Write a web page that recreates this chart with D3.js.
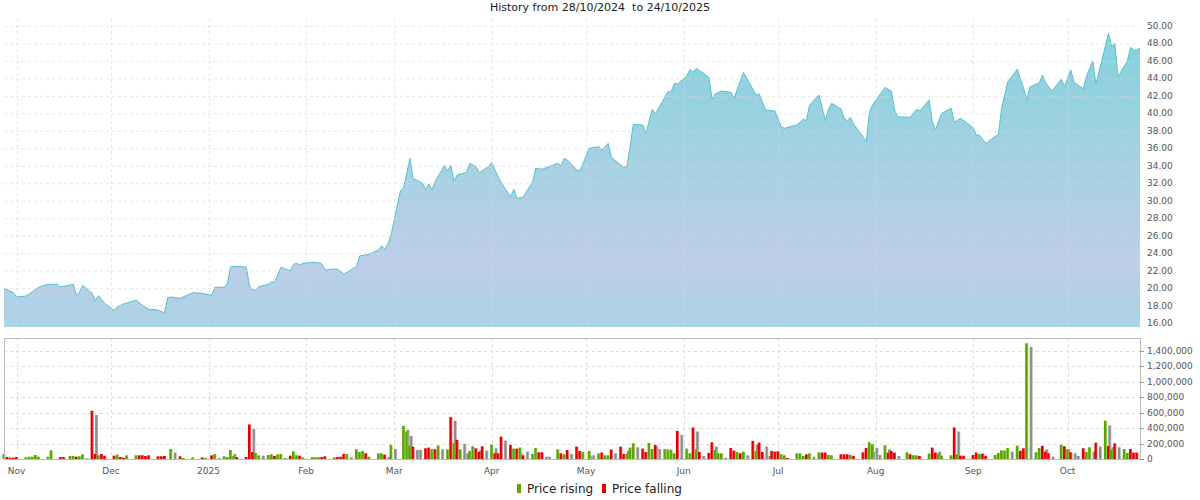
<!DOCTYPE html>
<html>
<head>
<meta charset="utf-8">
<script src="https://cdn.jsdelivr.net/npm/d3@7/dist/d3.min.js"></script>
<style>
  body { margin: 0; background: #fff; }
  text { font-family: "DejaVu Sans", sans-serif; }
</style>
</head>
<body>
<div id="chart"></div>
<script>
// Start of the history (day 0)
var startDate = new Date(2024, 9, 28);
var endDate = new Date(2025, 9, 24);

// Price series: days since 28/10/2024 and closing price
var priceDays = [0, 3, 4, 7, 9, 11, 14, 17, 18, 22, 23, 24, 25, 28, 29, 30, 32, 35, 36, 38,
  42, 44, 46, 49, 51, 52, 53, 56, 60, 63, 66, 67, 70, 71, 72, 73, 77, 78, 79, 80,
  81, 84, 85, 86, 88, 91, 92, 93, 94, 95, 98, 100, 101, 102, 105, 106, 108, 112, 113, 116,
  119, 120, 121, 122, 123, 126, 127, 129, 130, 133, 134, 135, 136, 137, 140, 141, 142, 143, 144, 147,
  148, 150, 151, 154, 155, 156, 158, 161, 162, 163, 165, 168, 169, 171, 176, 177, 178, 179, 182, 183,
  186, 189, 190, 192, 193, 197, 198, 200, 203, 204, 206, 207, 211, 212, 213, 214, 217, 218, 219, 220,
  224, 225, 226, 228, 231, 232, 235, 239, 240, 242, 245, 247, 248, 252, 254, 255, 256, 259, 261, 262,
  263, 266, 267, 268, 269, 270, 273, 274, 275, 276, 280, 282, 283, 284, 288, 290, 291, 294, 295, 296,
  298, 301, 302, 304, 308, 309, 310, 312, 316, 317, 319, 322, 324, 325, 326, 329, 330, 331, 333, 336,
  337, 339, 340, 343, 344, 346, 347, 351, 352, 353, 354, 357, 358, 359, 360, 361];
var priceValues = [20.0, 19.47, 18.98, 19.09, 19.58, 20.09, 20.43, 20.43, 20.12, 20.43, 19.17, 19.55, 20.31, 19.40, 18.55, 19.13, 18.25, 17.45, 17.87, 18.18,
  18.6, 18.03, 17.57, 17.49, 17.11, 18.9, 18.98, 18.83, 19.47, 19.40, 19.17, 20.09, 20.09, 20.54, 22.41, 22.49, 22.41, 20.24, 19.78, 19.78,
  20.16, 20.43, 20.73, 20.66, 22.38, 21.95, 22.72, 22.83, 22.64, 22.83, 22.95, 22.9, 22.75, 22.07, 22.18, 22.15, 21.6, 22.45, 23.67, 23.86,
  24.36, 24.82, 24.5, 25.04, 26.07, 31.15, 31.45, 34.85, 32.56, 31.99, 31.3, 31.91, 31.23, 32.18, 34.05, 33.4, 34.05, 32.26, 32.94, 33.25,
  34.28, 33.9, 33.21, 33.9, 34.4, 33.52, 32.06, 30.46, 31.3, 30.27, 30.39, 32.18, 33.71, 33.6, 34.28, 33.97, 34.85, 34.66, 33.52, 33.4,
  36.0, 36.18, 35.8, 36.57, 34.97, 33.78, 33.97, 38.75, 38.67, 37.72, 40.46, 39.93, 42.48, 42.48, 43.44, 43.36, 44.28, 45.04, 44.7, 45.16,
  44.13, 41.61, 42.22, 42.56, 42.41, 41.72, 44.7, 42.1, 42.22, 40.38, 40.27, 38.47, 38.29, 38.67, 39.32, 39.16, 40.96, 42.1, 39.16, 40.46,
  41.15, 40.5, 39.43, 39.16, 39.55, 38.75, 37.33, 36.76, 40.08, 40.96, 42.98, 42.52, 40.38, 39.6, 39.55, 40.46, 40.27, 41.53, 39.04, 38.1,
  40.0, 40.58, 38.98, 39.43, 38.36, 37.52, 37.49, 36.57, 37.6, 40.58, 43.63, 45.04, 42.87, 41.53, 42.98, 43.51, 44.36, 43.51, 42.56, 43.9,
  43.05, 44.97, 43.55, 42.79, 44.28, 45.96, 43.36, 49.17, 47.64, 48.02, 44.2, 45.99, 47.56, 47.25, 47.25, 47.45];

// Volume (thousands of shares), days since 28/10/2024, "u" = price rising, "d" = price falling
var volumeDays = [0, 1, 2, 3, 4, 7, 8, 9, 10, 11, 14, 15, 18, 19, 21, 22, 23, 24, 25, 28,
  29, 30, 31, 32, 35, 36, 37, 38, 39, 42, 43, 44, 45, 46, 49, 50, 51, 53, 56, 57,
  60, 63, 64, 66, 67, 70, 71, 72, 73, 74, 77, 78, 79, 80, 81, 84, 85, 86, 87, 88,
  91, 92, 93, 94, 95, 98, 99, 100, 101, 102, 105, 106, 107, 108, 109, 112, 113, 114, 115, 116,
  119, 120, 121, 123, 127, 128, 129, 130, 134, 135, 136, 137, 138, 141, 142, 143, 144, 145, 148, 149,
  150, 151, 152, 155, 156, 157, 158, 161, 162, 163, 164, 165, 168, 169, 170, 171, 176, 177, 178, 179,
  182, 183, 184, 186, 189, 190, 191, 192, 193, 196, 197, 198, 199, 200, 203, 204, 205, 206, 207, 210,
  211, 212, 213, 214, 217, 218, 219, 220, 221, 224, 225, 226, 227, 228, 231, 232, 233, 234, 235, 238,
  239, 240, 241, 244, 245, 246, 247, 248, 249, 252, 253, 254, 255, 256, 259, 260, 261, 262, 263, 266,
  267, 268, 269, 270, 273, 274, 275, 276, 280, 281, 282, 283, 287, 288, 289, 290, 291, 294, 295, 296,
  297, 298, 301, 302, 303, 304, 305, 308, 309, 310, 311, 312, 315, 316, 317, 318, 319, 322, 323, 324,
  325, 328, 329, 330, 331, 332, 336, 337, 338, 339, 343, 344, 345, 347, 350, 351, 352, 353, 356, 357,
  358, 359, 360];
var volumeValues = [65, 26, 17, 17, 26, 22, 30, 30, 52, 30, 30, 113, 26, 26, 39, 39, 30, 35, 61, 626,
  65, 48, 65, 43, 43, 57, 26, 17, 48, 48, 48, 48, 39, 48, 35, 35, 39, 130, 35, 13,
  22, 22, 13, 48, 65, 35, 26, 117, 39, 26, 26, 448, 91, 78, 48, 52, 61, 39, 61, 65,
  43, 100, 48, 43, 22, 26, 22, 26, 26, 35, 22, 26, 30, 65, 65, 126, 91, 104, 74, 30,
  74, 74, 57, 183, 430, 356, 170, 160, 139, 148, 126, 126, 174, 126, 543, 204, 248, 126, 104, 165,
  139, 91, 165, 187, 74, 74, 291, 183, 135, 135, 148, 48, 65, 143, 87, 87, 126, 74, 61, 117,
  161, 104, 91, 104, 74, 83, 48, 48, 122, 161, 65, 65, 148, 204, 135, 91, 209, 130, 183, 130,
  122, 122, 74, 365, 135, 74, 409, 126, 91, 78, 217, 117, 74, 74, 143, 109, 91, 74, 96, 235,
  104, 213, 91, 104, 96, 100, 61, 48, 13, 74, 74, 39, 61, 74, 87, 83, 83, 52, 48, 61,
  61, 61, 52, 39, 87, 143, 217, 191, 178, 83, 104, 83, 87, 61, 48, 48, 39, 70, 148, 83,
  74, 43, 48, 409, 61, 43, 43, 52, 83, 65, 70, 43, 52, 78, 113, 109, 143, 174, 104, 139,
  1500, 87, 143, 170, 96, 74, 183, 165, 126, 87, 139, 91, 152, 213, 496, 170, 117, 204, 130, 78,
  130, 83, 83];
var volumeDir = ["u", "d", "d", "d", "d", "u", "u", "u", "u", "u", "u", "u", "d", "d", "u", "u", "d", "u", "u", "d",
  "d", "u", "d", "d", "d", "u", "d", "d", "u", "u", "d", "d", "d", "d", "d", "d", "d", "u", "d", "u",
  "u", "d", "u", "d", "u", "u", "u", "u", "u", "d", "d", "d", "d", "u", "u", "u", "u", "d", "u", "u",
  "d", "u", "u", "d", "u", "u", "u", "u", "d", "d", "u", "d", "d", "d", "u", "u", "u", "u", "d", "u",
  "u", "u", "d", "u", "u", "u", "u", "d", "d", "d", "u", "d", "u", "u", "d", "u", "d", "u", "u", "u",
  "d", "d", "d", "u", "d", "d", "d", "d", "u", "d", "u", "d", "u", "u", "d", "d", "u", "d", "u", "d",
  "d", "d", "u", "u", "u", "d", "u", "u", "d", "d", "d", "u", "u", "u", "d", "d", "u", "u", "d", "u",
  "u", "u", "u", "d", "u", "u", "d", "u", "d", "d", "d", "u", "u", "u", "d", "d", "u", "d", "u", "d",
  "u", "d", "d", "d", "d", "d", "u", "u", "d", "u", "u", "u", "d", "u", "u", "d", "d", "u", "u", "d",
  "d", "d", "u", "d", "d", "d", "u", "u", "u", "d", "d", "d", "u", "d", "u", "u", "d", "u", "d", "d",
  "u", "u", "u", "d", "u", "d", "d", "d", "d", "u", "d", "d", "u", "u", "u", "u", "u", "u", "d", "d",
  "u", "u", "u", "d", "d", "d", "u", "d", "u", "d", "d", "u", "u", "d", "u", "d", "u", "d", "u", "u",
  "d", "d", "d"];

// Grey volume bars drawn beside the coloured ones (thousands)
var greyDays = [25, 28, 53, 67, 72, 78, 81, 88, 109, 121, 123, 127, 128, 130, 131, 138, 142, 145, 146, 150,
  152, 155, 158, 163, 165, 171, 172, 179, 185, 186, 193, 197, 200, 206, 207, 214, 219, 221, 225, 228,
  235, 238, 241, 242, 256, 275, 276, 277, 280, 283, 296, 302, 319, 322, 325, 330, 332, 337, 339, 340,
  345, 347, 350, 351, 353];
var greyValues = [9, 570, 83, 13, 65, 391, 43, 13, 22, 26, 130, 378, 300, 117, 117, 126, 496, 196, 74, 109,
  109, 139, 239, 74, 96, 30, 30, 65, 39, 48, 74, 109, 152, 161, 130, 313, 356, 39, 161, 17,
  48, 183, 161, 39, 30, 96, 143, 52, 126, 39, 96, 356, 96, 109, 1452, 126, 30, 126, 74, 39,
  96, 161, 435, 152, 152];

// Axis ticks
var priceTicks = [16, 18, 20, 22, 24, 26, 28, 30, 32, 34, 36, 38, 40, 42, 44, 46, 48, 50];
var volumeTicks = [0, 200, 400, 600, 800, 1000, 1200, 1400];
var monthLabels = ["Nov", "Dec", "2025", "Feb", "Mar", "Apr", "May", "Jun", "Jul", "Aug", "Sep", "Oct"];
var monthStarts = d3.timeMonth.range(new Date(2024, 10, 1), new Date(2025, 9, 2));

var svgWidth = 1200;
var svgHeight = 500;
var plotLeft = 4, plotRight = 1140;
var priceTop = 19, priceBottom = 327;
var volTop = 338, volBottom = 459;

var svg = d3.select("#chart")
  .append("svg")
  .attr("width", svgWidth)
  .attr("height", svgHeight);

var day = n => d3.timeDay.offset(startDate, n);

var xScale = d3.scaleTime()
  .domain([startDate, endDate])
  .range([plotLeft, plotRight]);

var yPrice = d3.scaleLinear()
  .domain([16, 50])
  .range([323, 26]);

var yVol = d3.scaleLinear()
  .domain([0, 1400])
  .range([volBottom, 351]);

// Title
svg.append("text")
  .attr("x", 600)
  .attr("y", 11)
  .attr("text-anchor", "middle")
  .style("font-size", "11px")
  .style("fill", "#222")
  .style("white-space", "pre")
  .attr("xml:space", "preserve")
  .text("History from 28/10/2024  to 24/10/2025");

var defs = svg.append("defs");

// Gradient for the price area
var grad = defs.append("linearGradient")
  .attr("id", "priceFill")
  .attr("gradientUnits", "userSpaceOnUse")
  .attr("x1", 0).attr("y1", 26)
  .attr("x2", 0).attr("y2", priceBottom);
grad.append("stop").attr("offset", "0").attr("stop-color", "#84d2dc");
grad.append("stop").attr("offset", "0.5").attr("stop-color", "#a9d1e4");
grad.append("stop").attr("offset", "0.78").attr("stop-color", "#bdcde9");
grad.append("stop").attr("offset", "1").attr("stop-color", "#a9d3e4");

// Bar shading: dark left edge, lighter right
function barGradient(id, dark, light) {
  var g = defs.append("linearGradient").attr("id", id)
    .attr("x1", 0).attr("y1", 0).attr("x2", 1).attr("y2", 0);
  g.append("stop").attr("offset", "0").attr("stop-color", dark);
  g.append("stop").attr("offset", "0.55").attr("stop-color", dark);
  g.append("stop").attr("offset", "1").attr("stop-color", light);
}
barGradient("barUp", "#58a400", "#9fd25a");
barGradient("barDown", "#e00000", "#ff6a6a");
barGradient("barGrey", "#8c8c8c", "#c4c4c4");

var priceData = priceDays.map((d, i) => ({ date: day(d), value: priceValues[i] }));

var area = d3.area()
  .x(d => xScale(d.date))
  .y0(priceBottom)
  .y1(d => yPrice(d.value));

var line = d3.line()
  .x(d => xScale(d.date))
  .y(d => yPrice(d.value));

svg.append("path")
  .datum(priceData)
  .attr("d", area)
  .attr("fill", "url(#priceFill)");

svg.append("path")
  .datum(priceData)
  .attr("d", line)
  .attr("fill", "none")
  .attr("stroke", "#4fc3ce")
  .attr("stroke-width", 1);

// Price grid (drawn over the area, faint)
var priceGrid = svg.append("g").attr("stroke", "#d8d8d8").attr("stroke-dasharray", "3,3").attr("opacity", 0.6);
priceGrid.selectAll("line.h")
  .data(priceTicks)
  .enter()
  .append("line")
  .attr("x1", plotLeft).attr("x2", plotRight)
  .attr("y1", d => yPrice(d) + 0.5).attr("y2", d => yPrice(d) + 0.5);
priceGrid.selectAll("line.v")
  .data(monthStarts)
  .enter()
  .append("line")
  .attr("x1", d => Math.round(xScale(d)) + 0.5).attr("x2", d => Math.round(xScale(d)) + 0.5)
  .attr("y1", priceTop).attr("y2", priceBottom);

// Price axis labels on the right
svg.selectAll("text.price")
  .data(priceTicks)
  .enter()
  .append("text")
  .attr("x", 1147)
  .attr("y", d => yPrice(d) + 3)
  .style("font-size", "9px")
  .style("fill", "#555")
  .text(d => d3.format(".2f")(d));

// Volume panel
var volGrid = svg.append("g").attr("stroke", "#dddddd").attr("stroke-dasharray", "3,3");
volGrid.selectAll("line.h")
  .data(volumeTicks.slice(1))
  .enter()
  .append("line")
  .attr("x1", plotLeft).attr("x2", plotRight)
  .attr("y1", d => Math.round(yVol(d)) + 0.5).attr("y2", d => Math.round(yVol(d)) + 0.5);
volGrid.selectAll("line.v")
  .data(monthStarts)
  .enter()
  .append("line")
  .attr("x1", d => Math.round(xScale(d)) + 0.5).attr("x2", d => Math.round(xScale(d)) + 0.5)
  .attr("y1", volTop).attr("y2", volBottom);

// Grey bars
svg.selectAll("rect.grey")
  .data(greyDays.map((d, i) => ({ date: day(d), v: greyValues[i] })))
  .enter()
  .append("rect")
  .attr("x", d => xScale(d.date) + 3)
  .attr("y", d => yVol(d.v))
  .attr("width", 3)
  .attr("height", d => volBottom - yVol(d.v))
  .attr("fill", "url(#barGrey)");

// Rising / falling bars
svg.selectAll("rect.vol")
  .data(volumeDays.map((d, i) => ({ date: day(d), v: volumeValues[i], dir: volumeDir[i] })))
  .enter()
  .append("rect")
  .attr("x", d => xScale(d.date) - 1.5)
  .attr("y", d => yVol(d.v))
  .attr("width", 3)
  .attr("height", d => volBottom - yVol(d.v))
  .attr("fill", d => d.dir === "u" ? "url(#barUp)" : "url(#barDown)");

// Box around volume panel
svg.append("rect")
  .attr("x", plotLeft + 0.5).attr("y", volTop + 0.5)
  .attr("width", plotRight - plotLeft).attr("height", volBottom - volTop)
  .attr("fill", "none")
  .attr("stroke", "#bbbbbb");

// Volume axis on the right
var volAxis = svg.append("g");
volAxis.selectAll("line")
  .data(volumeTicks)
  .enter()
  .append("line")
  .attr("x1", plotRight).attr("x2", plotRight + 4)
  .attr("y1", d => Math.round(yVol(d)) + 0.5).attr("y2", d => Math.round(yVol(d)) + 0.5)
  .attr("stroke", "#999");
volAxis.selectAll("text")
  .data(volumeTicks)
  .enter()
  .append("text")
  .attr("x", 1147)
  .attr("y", d => yVol(d) + 3)
  .style("font-size", "9px")
  .style("fill", "#555")
  .text(d => d3.format(",")(d * 1000));

// Month labels
svg.selectAll("text.month")
  .data(monthStarts)
  .enter()
  .append("text")
  .attr("x", d => xScale(d))
  .attr("y", 474)
  .attr("text-anchor", "middle")
  .style("font-size", "9px")
  .style("fill", "#555")
  .text((d, i) => monthLabels[i]);

// Legend
var legend = svg.append("g");
legend.append("rect").attr("x", 517).attr("y", 484).attr("width", 4).attr("height", 9).attr("fill", "#5ca80a");
legend.append("text").attr("x", 527).attr("y", 493).style("font-size", "12px").style("fill", "#222").text("Price rising");
legend.append("rect").attr("x", 602).attr("y", 484).attr("width", 4).attr("height", 9).attr("fill", "#e00000");
legend.append("text").attr("x", 612).attr("y", 493).style("font-size", "12px").style("fill", "#222").text("Price falling");
</script>
</body>
</html>
